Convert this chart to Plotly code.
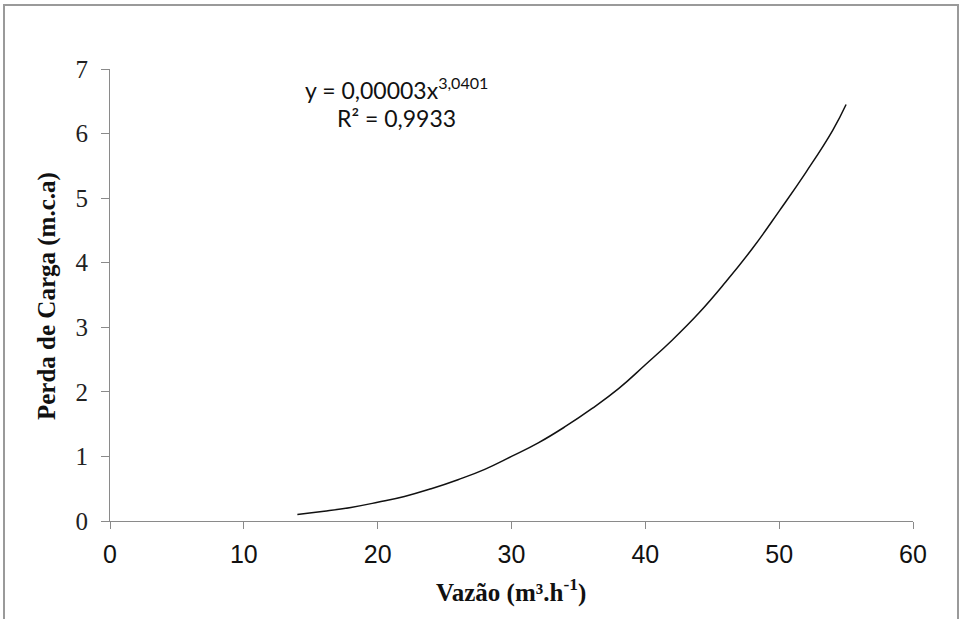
import plotly.graph_objects as go

# Curve values
vazao = [14, 16, 18, 20, 22, 24, 26, 28, 30, 32, 34, 36, 38, 40, 42, 44, 46, 48, 50, 52, 54, 55]
perda = [0.10, 0.15, 0.21, 0.29, 0.38, 0.50, 0.64, 0.80, 1.00, 1.21, 1.46, 1.74, 2.05, 2.42,
         2.80, 3.22, 3.70, 4.22, 4.80, 5.40, 6.05, 6.45]

x_ticks = [0, 10, 20, 30, 40, 50, 60]
y_ticks = [0, 1, 2, 3, 4, 5, 6, 7]

x_title = "<b>Vazão (m³.h<sup>-1</sup>)</b>"
y_title = "<b>Perda de Carga (m.c.a)</b>"
eq_line1 = "y = 0,00003x<sup>3,0401</sup>"
eq_line2 = "R² = 0,9933"

W, H = 961, 619
ml, mr, mt, mb = 110, 48, 69, 98
pw, ph = W - ml - mr, H - mt - mb


def px_x(p):
    return (p - ml) / pw


def px_y(p):
    return (H - mb - p) / ph


fig = go.Figure()
fig.add_trace(go.Scatter(x=vazao, y=perda, mode="lines",
                         line=dict(color="#111111", width=1.5, shape="spline", smoothing=1.3),
                         showlegend=False, hoverinfo="skip"))

axis_color = "#8a8a8a"
fig.update_xaxes(range=[0, 60], tickvals=x_ticks, ticks="outside", ticklen=7, tickcolor=axis_color,
                 showline=True, linecolor=axis_color, linewidth=1, showgrid=False, zeroline=False,
                 ticklabelstandoff=4, automargin=False,
                 tickfont=dict(family="Liberation Sans, Arial", size=25, color="#111"))
fig.update_yaxes(range=[0, 7], tickvals=y_ticks, ticks="outside", ticklen=8, tickcolor=axis_color,
                 showline=True, linecolor=axis_color, linewidth=1, showgrid=False, zeroline=False,
                 ticklabelstandoff=8, automargin=False,
                 tickfont=dict(family="Liberation Serif, Times New Roman", size=25, color="#222"))

fig.add_annotation(x=px_x(511), y=px_y(590), xref="paper", yref="paper", showarrow=False,
                   text=x_title, xanchor="center", yanchor="middle",
                   font=dict(family="Liberation Serif, Times New Roman", size=25, color="#111"))
fig.add_annotation(x=px_x(47), y=px_y(296), xref="paper", yref="paper", showarrow=False,
                   text=y_title, textangle=-90, xanchor="center", yanchor="middle",
                   font=dict(family="Liberation Serif, Times New Roman", size=25, color="#111"))

fig.add_annotation(x=px_x(396), y=px_y(88), xref="paper", yref="paper", showarrow=False,
                   text=eq_line1, xanchor="center", yanchor="middle",
                   font=dict(family="Lato, Open Sans", size=23, color="#111"))
fig.add_annotation(x=px_x(396), y=px_y(118), xref="paper", yref="paper", showarrow=False,
                   text=eq_line2, xanchor="center", yanchor="middle",
                   font=dict(family="Lato, Open Sans", size=23, color="#111"))

# outer frame
fig.add_shape(type="rect", xref="paper", yref="paper",
              x0=px_x(4), x1=px_x(958), y0=px_y(630), y1=px_y(5),
              line=dict(color="#9a9a9a", width=2), fillcolor="rgba(0,0,0,0)")

fig.update_layout(width=W, height=H, margin=dict(l=ml, r=mr, t=mt, b=mb, autoexpand=False),
                  paper_bgcolor="white", plot_bgcolor="white")

fig.write_html("out.html", config={"displayModeBar": False},
               post_script="document.body.style.margin='0px';")
